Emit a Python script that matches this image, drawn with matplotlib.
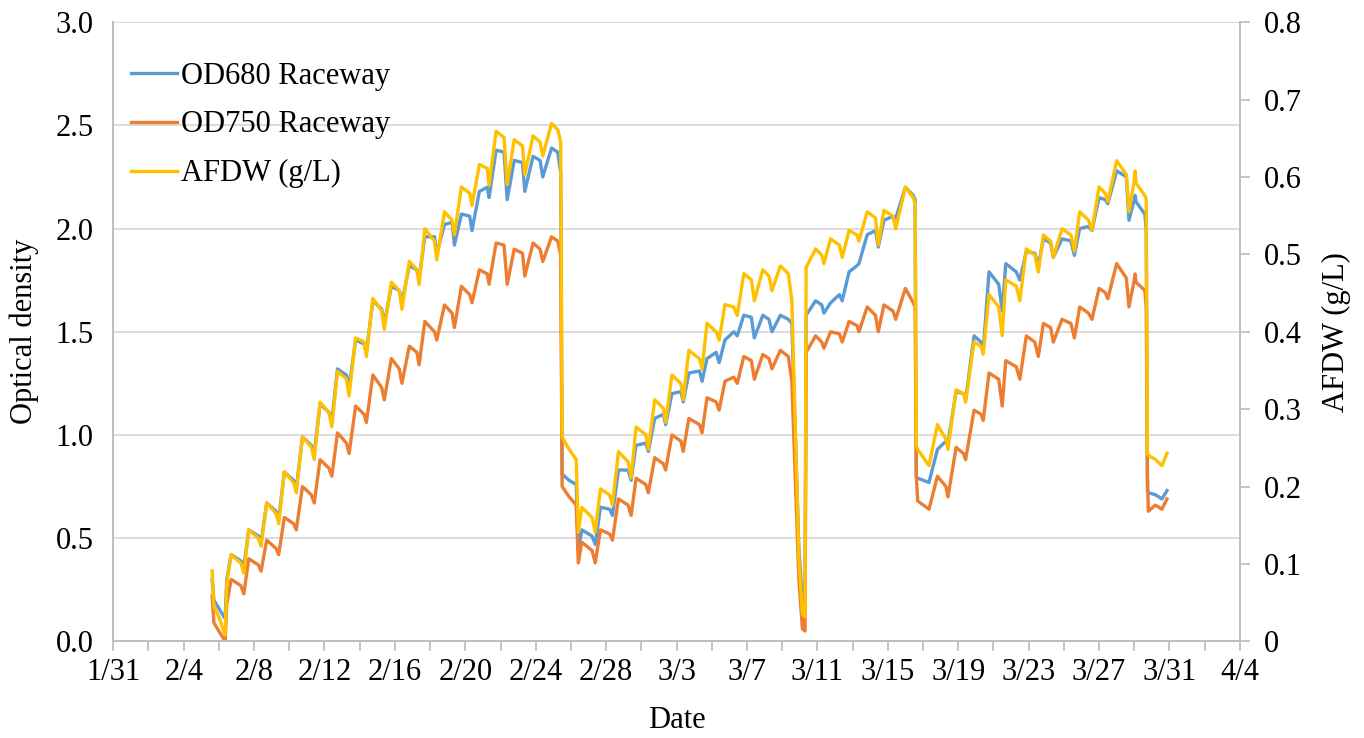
import matplotlib
matplotlib.use("Agg")
import matplotlib.pyplot as plt
from matplotlib.ticker import MultipleLocator, FixedLocator, FixedFormatter

plt.rcParams['font.family'] = ['Liberation Serif', 'DejaVu Serif']

# ---- data (time in days since 1/31, leap year) ----
t_days = [
    # run 1
    5.62, 5.72, 6.00, 6.36,
    6.45, 6.70, 7.25, 7.42, 7.70, 8.25, 8.40, 8.72, 9.25, 9.40, 9.72, 10.25,
    10.40, 10.75, 11.25, 11.42, 11.75, 12.25, 12.42, 12.74, 13.25, 13.40, 13.77, 14.25,
    14.38, 14.75, 15.25, 15.40, 15.80, 16.25, 16.40, 16.82, 17.25, 17.38, 17.70, 18.25,
    18.38, 18.82, 19.25, 19.38, 19.78, 20.25, 20.38, 20.80, 21.25, 21.35, 21.75, 22.20,
    22.38, 22.78, 23.25, 23.38, 23.85, 24.25, 24.40, 24.90, 25.25, 25.42,
    # run 2
    25.50, 25.90, 26.30,
    26.42, 26.62, 27.20, 27.38, 27.68, 28.20, 28.36, 28.70, 29.25, 29.42, 29.70, 30.25,
    30.40, 30.76, 31.25, 31.38, 31.74, 32.25, 32.38, 32.70, 33.30, 33.45, 33.73, 34.25,
    34.42, 34.75, 35.25, 35.45, 35.82, 36.25, 36.42, 36.90, 37.25, 37.42, 37.90, 38.35,
    38.55, 38.95, 39.15, 39.30,
    # run 3
    39.36, 39.90, 40.25,
    40.37, 40.75, 41.25, 41.41, 41.80, 42.25, 42.36, 42.83, 43.30, 43.46, 43.78, 44.30,
    44.45, 45.00, 45.45, 45.55,
    # run 4
    45.62, 45.70, 46.34,
    46.82, 47.30, 47.42, 47.88, 48.30, 48.42, 48.90, 49.30, 49.42, 49.75, 50.30, 50.50,
    50.70, 51.30, 51.50, 51.87, 52.35, 52.55, 52.84, 53.25, 53.40, 53.90, 54.40, 54.60,
    54.90, 55.40, 55.60, 56.00, 56.35, 56.50, 57.00, 57.55, 57.70,
    58.00, 58.05, 58.10, 58.60, 58.68,
    # run 5
    58.75, 58.80, 59.20, 59.57, 59.86,
]

od680 = [
    0.30, 0.20, 0.16, 0.11,
    0.30, 0.42, 0.39, 0.36, 0.54, 0.51, 0.48, 0.67, 0.63, 0.59, 0.82, 0.78,
    0.74, 0.99, 0.95, 0.91, 1.15, 1.11, 1.07, 1.32, 1.29, 1.23, 1.46, 1.44,
    1.40, 1.65, 1.61, 1.54, 1.72, 1.70, 1.64, 1.82, 1.80, 1.76, 1.96, 1.96,
    1.88, 2.02, 2.03, 1.92, 2.07, 2.06, 1.99, 2.18, 2.20, 2.15, 2.38, 2.37,
    2.14, 2.33, 2.32, 2.18, 2.35, 2.33, 2.25, 2.39, 2.37, 2.27,
    0.81, 0.78, 0.76,
    0.44, 0.54, 0.51, 0.47, 0.65, 0.64, 0.61, 0.83, 0.83, 0.78, 0.95, 0.96,
    0.92, 1.08, 1.10, 1.05, 1.20, 1.21, 1.16, 1.30, 1.31, 1.26, 1.37, 1.40,
    1.35, 1.46, 1.50, 1.48, 1.58, 1.57, 1.47, 1.58, 1.56, 1.50, 1.58, 1.56,
    1.54, 0.45, 0.20, 0.19,
    1.58, 1.65, 1.63,
    1.59, 1.64, 1.68, 1.65, 1.79, 1.82, 1.83, 1.97, 1.99, 1.91, 2.04, 2.06,
    2.05, 2.20, 2.16, 2.14,
    0.80, 0.79, 0.77,
    0.93, 0.97, 0.96, 1.21, 1.20, 1.17, 1.48, 1.45, 1.41, 1.79, 1.73, 1.60,
    1.83, 1.79, 1.75, 1.89, 1.88, 1.82, 1.95, 1.93, 1.86, 1.95, 1.94, 1.87,
    2.00, 2.01, 1.99, 2.15, 2.14, 2.12, 2.28, 2.25, 2.04,
    2.14, 2.16, 2.13, 2.07, 1.99,
    0.73, 0.72, 0.71, 0.69, 0.73,
]

od750 = [
    0.22, 0.09, 0.05, 0.00,
    0.18, 0.30, 0.27, 0.23, 0.40, 0.37, 0.34, 0.49, 0.45, 0.42, 0.60, 0.57,
    0.54, 0.75, 0.71, 0.67, 0.88, 0.84, 0.80, 1.01, 0.96, 0.91, 1.14, 1.10,
    1.06, 1.29, 1.23, 1.17, 1.37, 1.32, 1.25, 1.43, 1.40, 1.34, 1.55, 1.50,
    1.46, 1.63, 1.59, 1.52, 1.72, 1.68, 1.64, 1.80, 1.78, 1.73, 1.93, 1.92,
    1.73, 1.90, 1.88, 1.77, 1.93, 1.90, 1.84, 1.96, 1.94, 1.87,
    0.75, 0.70, 0.66,
    0.38, 0.48, 0.44, 0.38, 0.54, 0.52, 0.49, 0.69, 0.66, 0.61, 0.79, 0.76,
    0.72, 0.89, 0.86, 0.83, 1.00, 0.97, 0.92, 1.08, 1.05, 1.01, 1.18, 1.16,
    1.12, 1.26, 1.28, 1.25, 1.38, 1.36, 1.27, 1.39, 1.37, 1.32, 1.41, 1.38,
    1.26, 0.30, 0.06, 0.05,
    1.40, 1.48, 1.45,
    1.42, 1.50, 1.49, 1.45, 1.55, 1.53, 1.50, 1.62, 1.58, 1.50, 1.63, 1.60,
    1.56, 1.71, 1.64, 1.62,
    0.80, 0.68, 0.64,
    0.80, 0.75, 0.70, 0.94, 0.91, 0.88, 1.12, 1.10, 1.07, 1.30, 1.27, 1.14,
    1.36, 1.33, 1.27, 1.48, 1.45, 1.38, 1.54, 1.52, 1.45, 1.56, 1.54, 1.47,
    1.62, 1.59, 1.56, 1.71, 1.69, 1.66, 1.83, 1.76, 1.62,
    1.75, 1.78, 1.74, 1.70, 1.62,
    0.80, 0.63, 0.66, 0.64, 0.69,
]

afdw = [  # g/L (right axis)
    0.091, 0.045, 0.032, 0.008,
    0.075, 0.112, 0.101, 0.088, 0.144, 0.133, 0.123, 0.179, 0.165, 0.152, 0.219, 0.205,
    0.192, 0.264, 0.251, 0.235, 0.309, 0.296, 0.277, 0.349, 0.339, 0.317, 0.392, 0.387,
    0.368, 0.443, 0.427, 0.403, 0.464, 0.453, 0.429, 0.491, 0.480, 0.461, 0.533, 0.517,
    0.493, 0.555, 0.544, 0.525, 0.587, 0.579, 0.563, 0.616, 0.611, 0.589, 0.659, 0.651,
    0.590, 0.648, 0.640, 0.603, 0.653, 0.645, 0.627, 0.669, 0.661, 0.645,
    0.264, 0.248, 0.235,
    0.141, 0.173, 0.160, 0.141, 0.197, 0.189, 0.176, 0.245, 0.232, 0.211, 0.277, 0.267,
    0.248, 0.312, 0.301, 0.283, 0.344, 0.333, 0.312, 0.376, 0.365, 0.352, 0.411, 0.400,
    0.389, 0.435, 0.432, 0.421, 0.475, 0.467, 0.440, 0.480, 0.472, 0.453, 0.485, 0.475,
    0.440, 0.107, 0.035, 0.032,
    0.483, 0.507, 0.499,
    0.488, 0.520, 0.512, 0.496, 0.531, 0.525, 0.517, 0.555, 0.547, 0.512, 0.557, 0.549,
    0.533, 0.587, 0.573, 0.565,
    0.253, 0.248, 0.227,
    0.280, 0.261, 0.248, 0.325, 0.320, 0.309, 0.387, 0.381, 0.371, 0.448, 0.432, 0.395,
    0.467, 0.459, 0.440, 0.507, 0.499, 0.477, 0.525, 0.517, 0.496, 0.533, 0.525, 0.504,
    0.555, 0.544, 0.531, 0.587, 0.579, 0.568, 0.621, 0.603, 0.555,
    0.595, 0.608, 0.592, 0.576, 0.571,
    0.243, 0.240, 0.235, 0.227, 0.243,
]

date_labels = ["1/31", "2/4", "2/8", "2/12", "2/16", "2/20", "2/24", "2/28", "3/3",
               "3/7", "3/11", "3/15", "3/19", "3/23", "3/27", "3/31", "4/4"]
left_ticks = [0.0, 0.5, 1.0, 1.5, 2.0, 2.5, 3.0]
right_ticks = [0, 0.1, 0.2, 0.3, 0.4, 0.5, 0.6, 0.7, 0.8]

assert len(t_days) == len(od680) == len(od750) == len(afdw)

# ---- figure ----
C_BLUE, C_ORANGE, C_YELLOW = "#5B9BD5", "#ED7D31", "#FFC000"
GRID = "#D9D9D9"
SPINE = "#BFBFBF"
FS = 22

fig = plt.figure(figsize=(13.64, 7.38), dpi=100)
ax = fig.add_axes([0.083, 0.131, 0.826, 0.839])
ax2 = ax.twinx()

l1, = ax.plot(t_days, od680, color=C_BLUE, lw=2.4, label="OD680 Raceway", zorder=3)
l2, = ax.plot(t_days, od750, color=C_ORANGE, lw=2.4, label="OD750 Raceway", zorder=3)
l3, = ax2.plot(t_days, afdw, color=C_YELLOW, lw=2.4, label="AFDW (g/L)", zorder=3)

ax.set_xlim(0, 64)
ax.set_ylim(0, 3.0)
ax2.set_ylim(0, 0.8)

major_pos = [4 * i for i in range(len(date_labels))]
ax.xaxis.set_major_locator(FixedLocator(major_pos))
ax.xaxis.set_major_formatter(FixedFormatter(date_labels))
ax.xaxis.set_minor_locator(MultipleLocator(2))

ax.set_yticks(left_ticks)
ax.set_yticklabels([f"{v:.1f}" for v in left_ticks])
ax2.set_yticks(right_ticks)
ax2.set_yticklabels(["0"] + [f"{v:.1f}" for v in right_ticks[1:]])

ax.grid(axis="y", color=GRID, lw=1.3)
ax.set_axisbelow(True)

for a in (ax, ax2):
    a.spines["top"].set_visible(False)
    for s in ("left", "right", "bottom"):
        a.spines[s].set_color(SPINE)
        a.spines[s].set_linewidth(1.3)

ax.tick_params(axis="x", which="both", direction="out", length=7, width=1.3,
               color=SPINE, labelsize=FS, pad=5)
ax.tick_params(axis="y", length=0, labelsize=FS, pad=14)
ax2.tick_params(axis="y", direction="out", length=7, width=1.3, color=SPINE,
                labelsize=FS, pad=10)

ax.set_xlabel("Date", fontsize=FS, labelpad=14)
ax.set_ylabel("Optical density", fontsize=FS)
ax.yaxis.set_label_coords(-0.066, 0.5)
ax2.set_ylabel("AFDW (g/L)", fontsize=FS, labelpad=15)

leg = ax.legend(handles=[l1, l2, l3], loc="upper left", bbox_to_anchor=(0.005, 0.956),
                frameon=False, fontsize=FS, handlelength=1.5, handletextpad=0.12,
                labelspacing=0.65, borderaxespad=0)
leg.set_zorder(5)

fig.savefig("out.png", dpi=100)
